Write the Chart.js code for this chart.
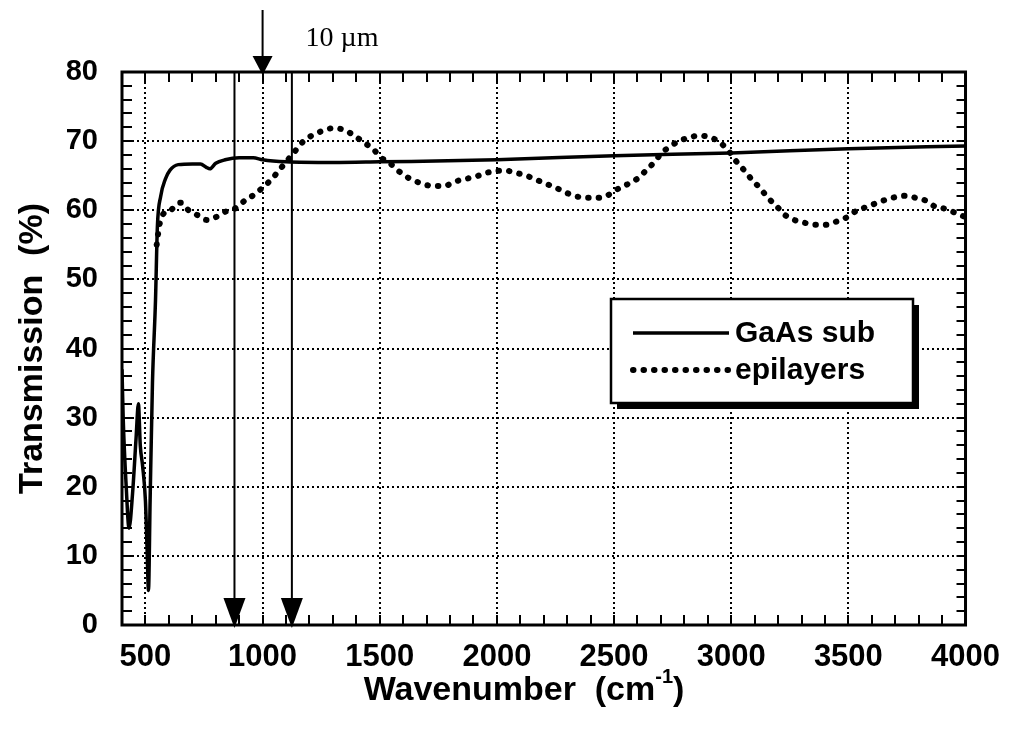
<!DOCTYPE html>
<html>
<head>
<meta charset="utf-8">
<script src="https://cdn.jsdelivr.net/npm/chart.js@4.4.0/dist/chart.umd.min.js"></script>
<style>
  html, body { margin: 0; padding: 0; background: #fff; }
  canvas { display: block; }
</style>
</head>
<body>
<canvas id="spectrum" width="1014" height="734"></canvas>
<script>
// GaAs substrate transmission (cm-1 / %)
const gaasWavenumber = [400, 405, 418, 430, 445, 460, 470, 478, 488, 500, 507, 513, 520, 530, 543, 551, 565, 585, 605, 640, 700, 735, 760, 775, 800, 840, 900, 960, 1000, 1100, 1300, 1500, 2000, 2500, 3000, 3500, 4000];
const gaasTransmission = [37, 30, 20, 14, 19, 27, 32, 26, 23, 18, 11, 5, 18, 35, 47, 57.6, 62, 64.5, 65.8, 66.6, 66.7, 66.7, 66.2, 66.0, 66.8, 67.3, 67.6, 67.6, 67.3, 67.0, 66.9, 67.0, 67.3, 67.9, 68.3, 68.9, 69.3];

// epilayer transmission (cm-1 / %)
const epiWavenumber = [548, 560, 573, 607, 650, 684, 722, 761, 800, 842, 885, 928, 962, 1005, 1044, 1078, 1108, 1142, 1172, 1215, 1258, 1305, 1356, 1399, 1433, 1476, 1506, 1540, 1579, 1622, 1668, 1728, 1775, 1818, 1861, 1904, 1955, 2006, 2041, 2083, 2126, 2169, 2212, 2255, 2298, 2340, 2383, 2426, 2469, 2512, 2554, 2597, 2632, 2670, 2704, 2738, 2777, 2820, 2862, 2905, 2948, 2991, 3016, 3055, 3089, 3123, 3157, 3196, 3230, 3269, 3311, 3358, 3401, 3444, 3495, 3538, 3581, 3624, 3667, 3701, 3744, 3787, 3830, 3872, 3915, 3958, 4000];
const epiTransmission = [55, 57.9, 59.3, 60, 61.1, 60, 59.3, 58.6, 59, 59.8, 60.3, 61.5, 62.2, 63.4, 64.7, 66.1, 67.3, 68.7, 69.9, 70.9, 71.5, 71.9, 71.5, 70.6, 69.8, 68.7, 67.6, 66.9, 65.7, 64.7, 64.0, 63.5, 63.5, 64.1, 64.5, 64.8, 65.4, 65.7, 65.7, 65.4, 65.0, 64.4, 63.8, 63.2, 62.5, 62.0, 61.8, 61.8, 62.1, 63.0, 63.7, 64.5, 65.6, 66.9, 68.3, 69.2, 70.0, 70.5, 70.8, 70.6, 69.9, 68.5, 67.3, 65.8, 64.4, 63.2, 61.8, 60.5, 59.3, 58.6, 58.2, 57.9, 57.9, 58.3, 59.0, 60.0, 60.5, 61.1, 61.6, 61.9, 62.1, 61.8, 61.4, 60.5, 60.2, 59.6, 59.0];

const xTicks = [500, 1000, 1500, 2000, 2500, 3000, 3500, 4000];
const yTicks = [0, 10, 20, 30, 40, 50, 60, 70, 80];

// wavenumbers marked by arrows
const bottomArrows = [880, 1125];
const topArrow = 1000;
const topArrowLabel = '10 µm';

const sans = "'Liberation Sans', Arial, Helvetica, sans-serif";

function toPoints(xs, ys) {
  return xs.map((x, i) => ({ x: x, y: ys[i] }));
}

function arrowHead(ctx, x, tipY, half, len) {
  ctx.beginPath();
  ctx.moveTo(x - half, tipY - len);
  ctx.lineTo(x + half, tipY - len);
  ctx.lineTo(x, tipY);
  ctx.closePath();
  ctx.fill();
}

const decorations = {
  id: 'decorations',
  afterDatasetsDraw(chart) {
    const { ctx, chartArea: a, scales: { x, y } } = chart;
    ctx.save();
    ctx.strokeStyle = '#000';
    ctx.fillStyle = '#000';

    // inward minor ticks on all four sides
    ctx.lineWidth = 2;
    ctx.beginPath();
    for (let v = 400; v <= 4000; v += 100) {
      const px = Math.round(x.getPixelForValue(v));
      ctx.moveTo(px, a.bottom); ctx.lineTo(px, a.bottom - 10);
      ctx.moveTo(px, a.top); ctx.lineTo(px, a.top + 10);
    }
    for (let v = 0; v <= 80; v += 2) {
      const py = Math.round(y.getPixelForValue(v));
      ctx.moveTo(a.left, py); ctx.lineTo(a.left + 10, py);
      ctx.moveTo(a.right, py); ctx.lineTo(a.right - 9, py);
    }
    ctx.stroke();

    // frame
    ctx.lineWidth = 3;
    ctx.strokeRect(a.left, a.top, a.right - a.left, a.bottom - a.top);

    // vertical arrows down to the axis
    ctx.lineWidth = 2;
    bottomArrows.forEach(v => {
      const px = x.getPixelForValue(v);
      ctx.beginPath();
      ctx.moveTo(px, a.top);
      ctx.lineTo(px, a.bottom - 20);
      ctx.stroke();
      arrowHead(ctx, px, a.bottom + 3, 11, 30);
    });

    // 10 µm arrow above the frame
    const tx = x.getPixelForValue(topArrow);
    ctx.beginPath();
    ctx.moveTo(tx, 10);
    ctx.lineTo(tx, a.top - 10);
    ctx.stroke();
    arrowHead(ctx, tx, a.top + 3, 10, 19);
    ctx.font = "28px 'Liberation Serif', 'Times New Roman', serif";
    ctx.textAlign = 'left';
    ctx.textBaseline = 'alphabetic';
    ctx.fillText(topArrowLabel, tx + 43, 46);

    // legend box with drop shadow
    const lx = a.left + 489, ly = a.top + 227, lw = 302, lh = 104;
    ctx.fillRect(lx + 6, ly + 6, lw, lh);
    ctx.fillStyle = '#fff';
    ctx.fillRect(lx, ly, lw, lh);
    ctx.lineWidth = 2.5;
    ctx.strokeRect(lx, ly, lw, lh);
    ctx.fillStyle = '#000';
    ctx.font = 'bold 30px ' + sans;
    ctx.textBaseline = 'middle';
    chart.data.datasets.forEach((ds, i) => {
      const rowY = ly + 34 + i * 37;
      ctx.save();
      ctx.lineWidth = ds.borderWidth;
      ctx.lineCap = ds.borderCapStyle || 'butt';
      ctx.setLineDash(ds.borderDash || []);
      ctx.beginPath();
      ctx.moveTo(lx + 22, rowY);
      ctx.lineTo(lx + 118, rowY);
      ctx.stroke();
      ctx.restore();
      ctx.fillText(ds.label, lx + 124, rowY + 1);
    });

    // x axis title with superscript
    const cx = 524, by = 700;
    const main = 'Wavenumber  (cm';
    ctx.font = 'bold 34px ' + sans;
    const w1 = ctx.measureText(main).width;
    ctx.font = 'bold 20px ' + sans;
    const w2 = ctx.measureText('-1').width;
    ctx.font = 'bold 34px ' + sans;
    const w3 = ctx.measureText(')').width;
    let sx = cx - (w1 + w2 + w3) / 2;
    ctx.textBaseline = 'alphabetic';
    ctx.fillText(main, sx, by);
    ctx.font = 'bold 20px ' + sans;
    ctx.fillText('-1', sx + w1, by - 17);
    ctx.font = 'bold 34px ' + sans;
    ctx.fillText(')', sx + w1 + w2, by);
    ctx.restore();
  }
};

new Chart(document.getElementById('spectrum'), {
  type: 'line',
  data: {
    datasets: [
      {
        label: 'GaAs sub',
        data: toPoints(gaasWavenumber, gaasTransmission),
        borderColor: '#000',
        borderWidth: 3.5,
        pointRadius: 0,
        cubicInterpolationMode: 'monotone',
        fill: false
      },
      {
        label: 'epilayers',
        data: toPoints(epiWavenumber, epiTransmission),
        borderColor: '#000',
        borderWidth: 6,
        borderDash: [0.5, 10],
        borderCapStyle: 'round',
        pointRadius: 0,
        cubicInterpolationMode: 'monotone',
        fill: false
      }
    ]
  },
  options: {
    responsive: false,
    animation: false,
    layout: { padding: { left: 0, right: 48, top: 72, bottom: 0 } },
    plugins: {
      legend: { display: false },
      tooltip: { enabled: false }
    },
    scales: {
      x: {
        type: 'linear',
        min: 400,
        max: 4000,
        afterBuildTicks: (scale) => { scale.ticks = xTicks.map(v => ({ value: v })); },
        afterFit: (scale) => { scale.height = 109; },
        grid: { color: '#000', lineWidth: 2, drawTicks: false },
        border: { display: false, dash: [2, 3] },
        ticks: {
          color: '#000',
          padding: 14,
          maxRotation: 0,
          callback: (value) => String(value),
          font: { family: sans, size: 31, weight: 'bold' }
        }
      },
      y: {
        type: 'linear',
        min: 0,
        max: 80,
        afterBuildTicks: (scale) => { scale.ticks = yTicks.map(v => ({ value: v })); },
        afterFit: (scale) => { scale.width = 122; },
        grid: { color: '#000', lineWidth: 2, drawTicks: false },
        border: { display: false, dash: [2, 3] },
        title: {
          display: true,
          text: 'Transmission  (%)',
          color: '#000',
          font: { family: sans, size: 34, weight: 'bold' },
          padding: { top: 12, bottom: 0 }
        },
        ticks: {
          color: '#000',
          padding: 24,
          callback: (value) => String(value),
          font: { family: sans, size: 29, weight: 'bold' }
        }
      }
    }
  },
  plugins: [decorations]
});
</script>
</body>
</html>
